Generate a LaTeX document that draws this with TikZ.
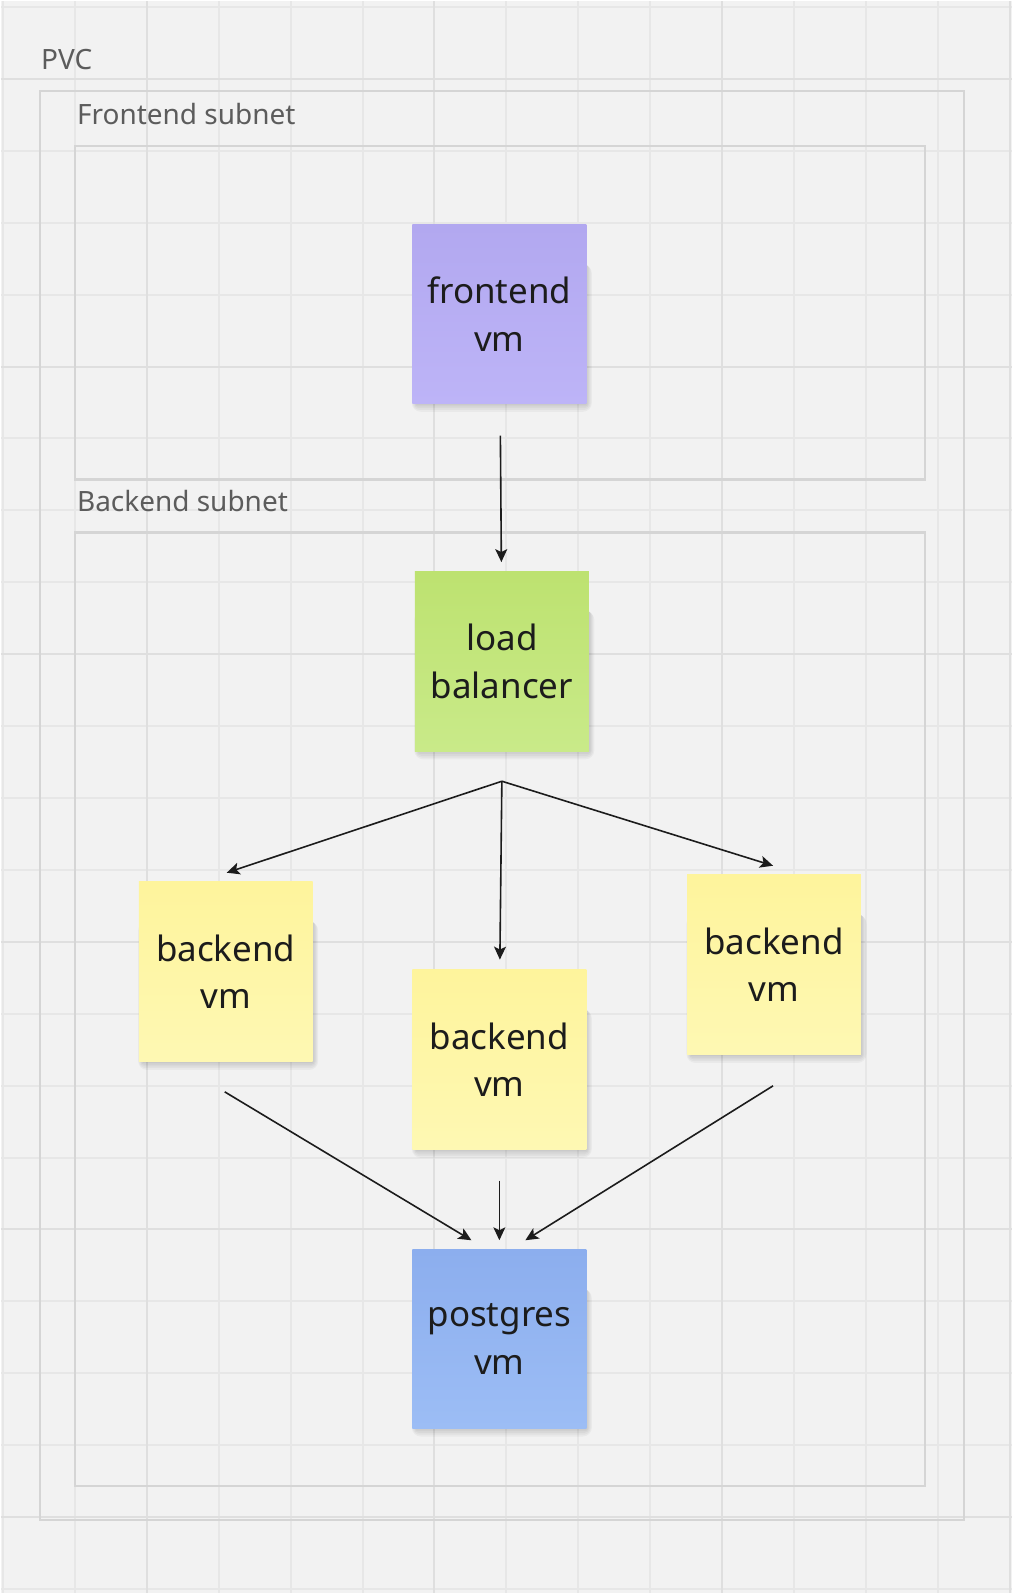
\documentclass[tikz,border=0pt]{standalone}
\usepackage{fontspec}
\setmainfont{Noto Sans}
\usetikzlibrary{arrows.meta,calc}
\definecolor{bg}{HTML}{F2F2F2}
\definecolor{gridminor}{HTML}{E7E7E7}
\definecolor{gridmajor}{HTML}{DFDFDF}
\definecolor{boxgray}{HTML}{D5D5D5}
\definecolor{labgray}{HTML}{5C5C5C}
\definecolor{ink}{HTML}{1C1C1C}
\definecolor{feTop}{HTML}{B2A8F0}
\definecolor{feBot}{HTML}{BDB4F7}
\definecolor{lbTop}{HTML}{BDE270}
\definecolor{lbBot}{HTML}{C9EA89}
\definecolor{beTop}{HTML}{FEF49C}
\definecolor{beBot}{HTML}{FEF8B3}
\definecolor{pgTop}{HTML}{8CAEEE}
\definecolor{pgBot}{HTML}{9CBDF5}
\pgfdeclarelayer{bglayer}
\pgfdeclarelayer{shadowlayer}
\pgfsetlayers{bglayer,shadowlayer,main}
\begin{document}
\begin{tikzpicture}[x=1pt,y=-1pt,
  sticky/.style={minimum width=174pt,minimum height=180pt,inner sep=0pt,align=center,
    font=\fontsize{35}{47.5}\selectfont,text=ink},
  conn/.style={draw=ink,line width=1.6pt,-{Stealth[length=13pt,width=12pt,inset=3pt]}},
  lab/.style={anchor=base west,inner sep=0pt,font=\fontsize{28}{34}\selectfont,text=labgray},
  area/.style={draw=boxgray,line width=2.5pt},
  minorline/.style={draw=gridminor,line width=2pt},
  majorline/.style={draw=gridmajor,line width=2pt},
  shadowpiece/.style={fill=black,fill opacity=0.035,rounded corners=#1}
]
\begin{pgfonlayer}{bglayer}
\fill[bg] (0,0) rectangle (1012,1594);
% grid
\foreach \i in {0,...,14} \draw[minorline] (2+72*\i,0) -- (2+72*\i,1594);
\foreach \j in {0,...,22} \draw[minorline] (0,6+72*\j) -- (1012,6+72*\j);
\foreach \i in {146,434,722,1010} \draw[majorline] (\i,0) -- (\i,1594);
\foreach \j in {78,366,654,942,1230,1518} \draw[majorline] (0,\j) -- (1012,\j);
% areas
\draw[area] (39,90) rectangle (964,1521);
\draw[area] (74,145) rectangle (925,479);
\draw[area] (74,532) rectangle (925,1487);
\end{pgfonlayer}
\useasboundingbox (0,0) rectangle (1012,1594);
\node[lab] (pvc) at (40,69) {PVC};
\node[lab] (fsub) at (76,124) {Frontend subnet};
\node[lab] (bsub) at (76,511) {Backend subnet};
% stickies
\node[sticky,minimum height=179pt,top color=feTop,bottom color=feBot] (fe) at (499,313.5) {frontend\\vm};
\node[sticky,top color=lbTop,bottom color=lbBot] (lb) at (501.5,661) {load\\balancer};
\node[sticky,top color=beTop,bottom color=beBot] (bl) at (225,972) {backend\\vm};
\node[sticky,top color=beTop,bottom color=beBot] (bm) at (499,1060) {backend\\vm};
\node[sticky,top color=beTop,bottom color=beBot] (br) at (774,965) {backend\\vm};
\node[sticky,minimum height=179pt,top color=pgTop,bottom color=pgBot] (pg) at (499,1339.5) {postgres\\vm};
% soft shadows
\begin{pgfonlayer}{shadowlayer}
\foreach \n in {fe,lb,bl,bm,br,pg}{
  \foreach \s in {1,3,5,7,9}{
    \fill[shadowpiece=\s pt] ($(\n.north west)+(4-0.5*\s,40)$) rectangle ($(\n.south east)+(0.6*\s,0.9*\s)$);
  }
}
\end{pgfonlayer}
% connector points
\coordinate (feo) at ($(fe.south)+(1,32)$);
\coordinate (lbi) at ($(lb.north)+(-0.5,-9)$);
\coordinate (fan) at ($(lb.south)+(0,30)$);
\coordinate (bli) at ($(bl.north)+(1,-9)$);
\coordinate (bmi) at ($(bm.north)+(0.5,-10)$);
\coordinate (bri) at ($(br.north)+(-1,-9)$);
\coordinate (blo) at ($(bl.south)+(-1,30)$);
\coordinate (bmo) at ($(bm.south)+(0,31)$);
\coordinate (bro) at ($(br.south)+(-1,31)$);
\coordinate (pgl) at ($(pg.north)+(-28,-9)$);
\coordinate (pgm) at ($(pg.north)+(0,-9)$);
\coordinate (pgr) at ($(pg.north)+(26,-9)$);
% connectors
\draw[conn] (feo) -- (lbi);
\draw[conn] (fan) -- (bli);
\draw[conn] (fan) -- (bmi);
\draw[conn] (fan) -- (bri);
\draw[conn] (blo) -- (pgl);
\draw[conn] (bmo) -- (pgm);
\draw[conn] (bro) -- (pgr);
\end{tikzpicture}
\end{document}
